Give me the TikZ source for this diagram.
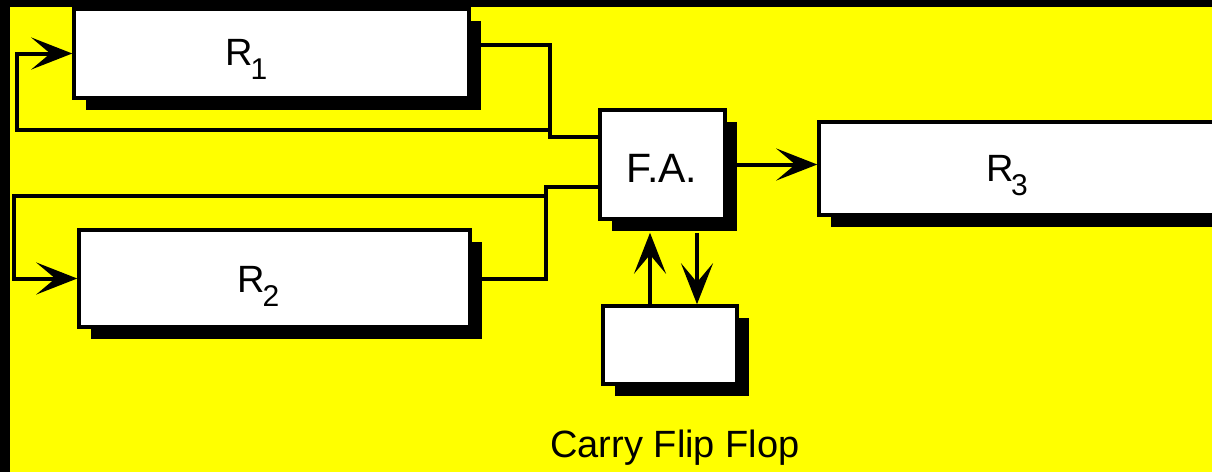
\documentclass[tikz,border=0pt]{standalone}
\usepackage{fontspec}
\setmainfont{Liberation Sans}
\usetikzlibrary{arrows.meta,shadows}
\definecolor{bgyellow}{RGB}{255,255,0}
\newcommand\regsub[1]{R\kern-2.5pt\raisebox{-14pt}{\fontsize{30}{30}\selectfont #1}}

\begin{document}
\begin{tikzpicture}[x=1pt,y=-1pt,
  wire/.style={line width=4pt},
  flow/.style={wire,-{Stealth[length=41pt,width=32pt,inset=19pt]}},
  blk/.style={draw,line width=3.5pt,fill=white,inner sep=0pt,
    drop shadow={shadow xshift=12pt,shadow yshift=-12pt,fill=black,opacity=1}},
  lbl/.style={font=\fontsize{38}{40}\selectfont,inner sep=0pt,anchor=base}]

% frame and background
\fill[black] (0,0) rectangle (1212,472);
\fill[bgyellow] (10,7) rectangle (1212,472);
\useasboundingbox (0,0) rectangle (1212,472);

% registers, adder and carry flip flop
\node[blk,minimum width=395pt,minimum height=89pt] (r1) at (271.5,53.5) {};
\node[blk,minimum width=391pt,minimum height=97pt] (r2) at (274.5,278.5) {};
\node[blk,minimum width=125pt,minimum height=109pt] (fa) at (662.5,164.5) {};
\node[blk,minimum width=420pt,minimum height=93pt] (r3) at (1029,168.5) {};
\node[blk,minimum width=134pt,minimum height=78pt] (cf) at (670,345) {};

% labels
\node[lbl] (r1t) at (246.5,65) {\regsub{1}};
\node[lbl] (r2t) at (258.5,292) {\regsub{2}};
\node[lbl] (r3t) at (1007,181) {\regsub{3}};
\node[lbl,font=\fontsize{41}{44}\selectfont] (fat) at (662,182) {F.A.};
\node[lbl] (cft) at (675,457) {Carry Flip Flop};

% junction points
\coordinate (c1) at (550,137);
\coordinate (t1) at (550,130);
\coordinate (k1) at (17,130);
\coordinate (c2) at (546,187);
\coordinate (t2) at (546,196);
\coordinate (k2) at (14,196);

% R1 into the adder, and fed back into R1
\draw[wire] ([yshift=8.5pt]r1.east) -| (c1) -- (c1 -| fa.west);
\draw[flow] (t1) -- (k1) |- (r1.west);

% R2 into the adder, and fed back into R2
\draw[wire] (r2.east) -| (c2) -- (c2 -| fa.west);
\draw[flow] (t2) -- (k2) |- (r2.west);

% sum into R3
\draw[flow] (fa.east) -- (fa.east -| r3.west);

% carry out and carry in
\draw[flow] ([xshift=-20pt]cf.north) -- ([xshift=-20pt,yshift=-12pt]cf.north |- fa.south);
\draw[flow] ([xshift=27pt,yshift=-12pt]cf.north |- fa.south) -- ([xshift=27pt]cf.north);
\end{tikzpicture}
\end{document}
